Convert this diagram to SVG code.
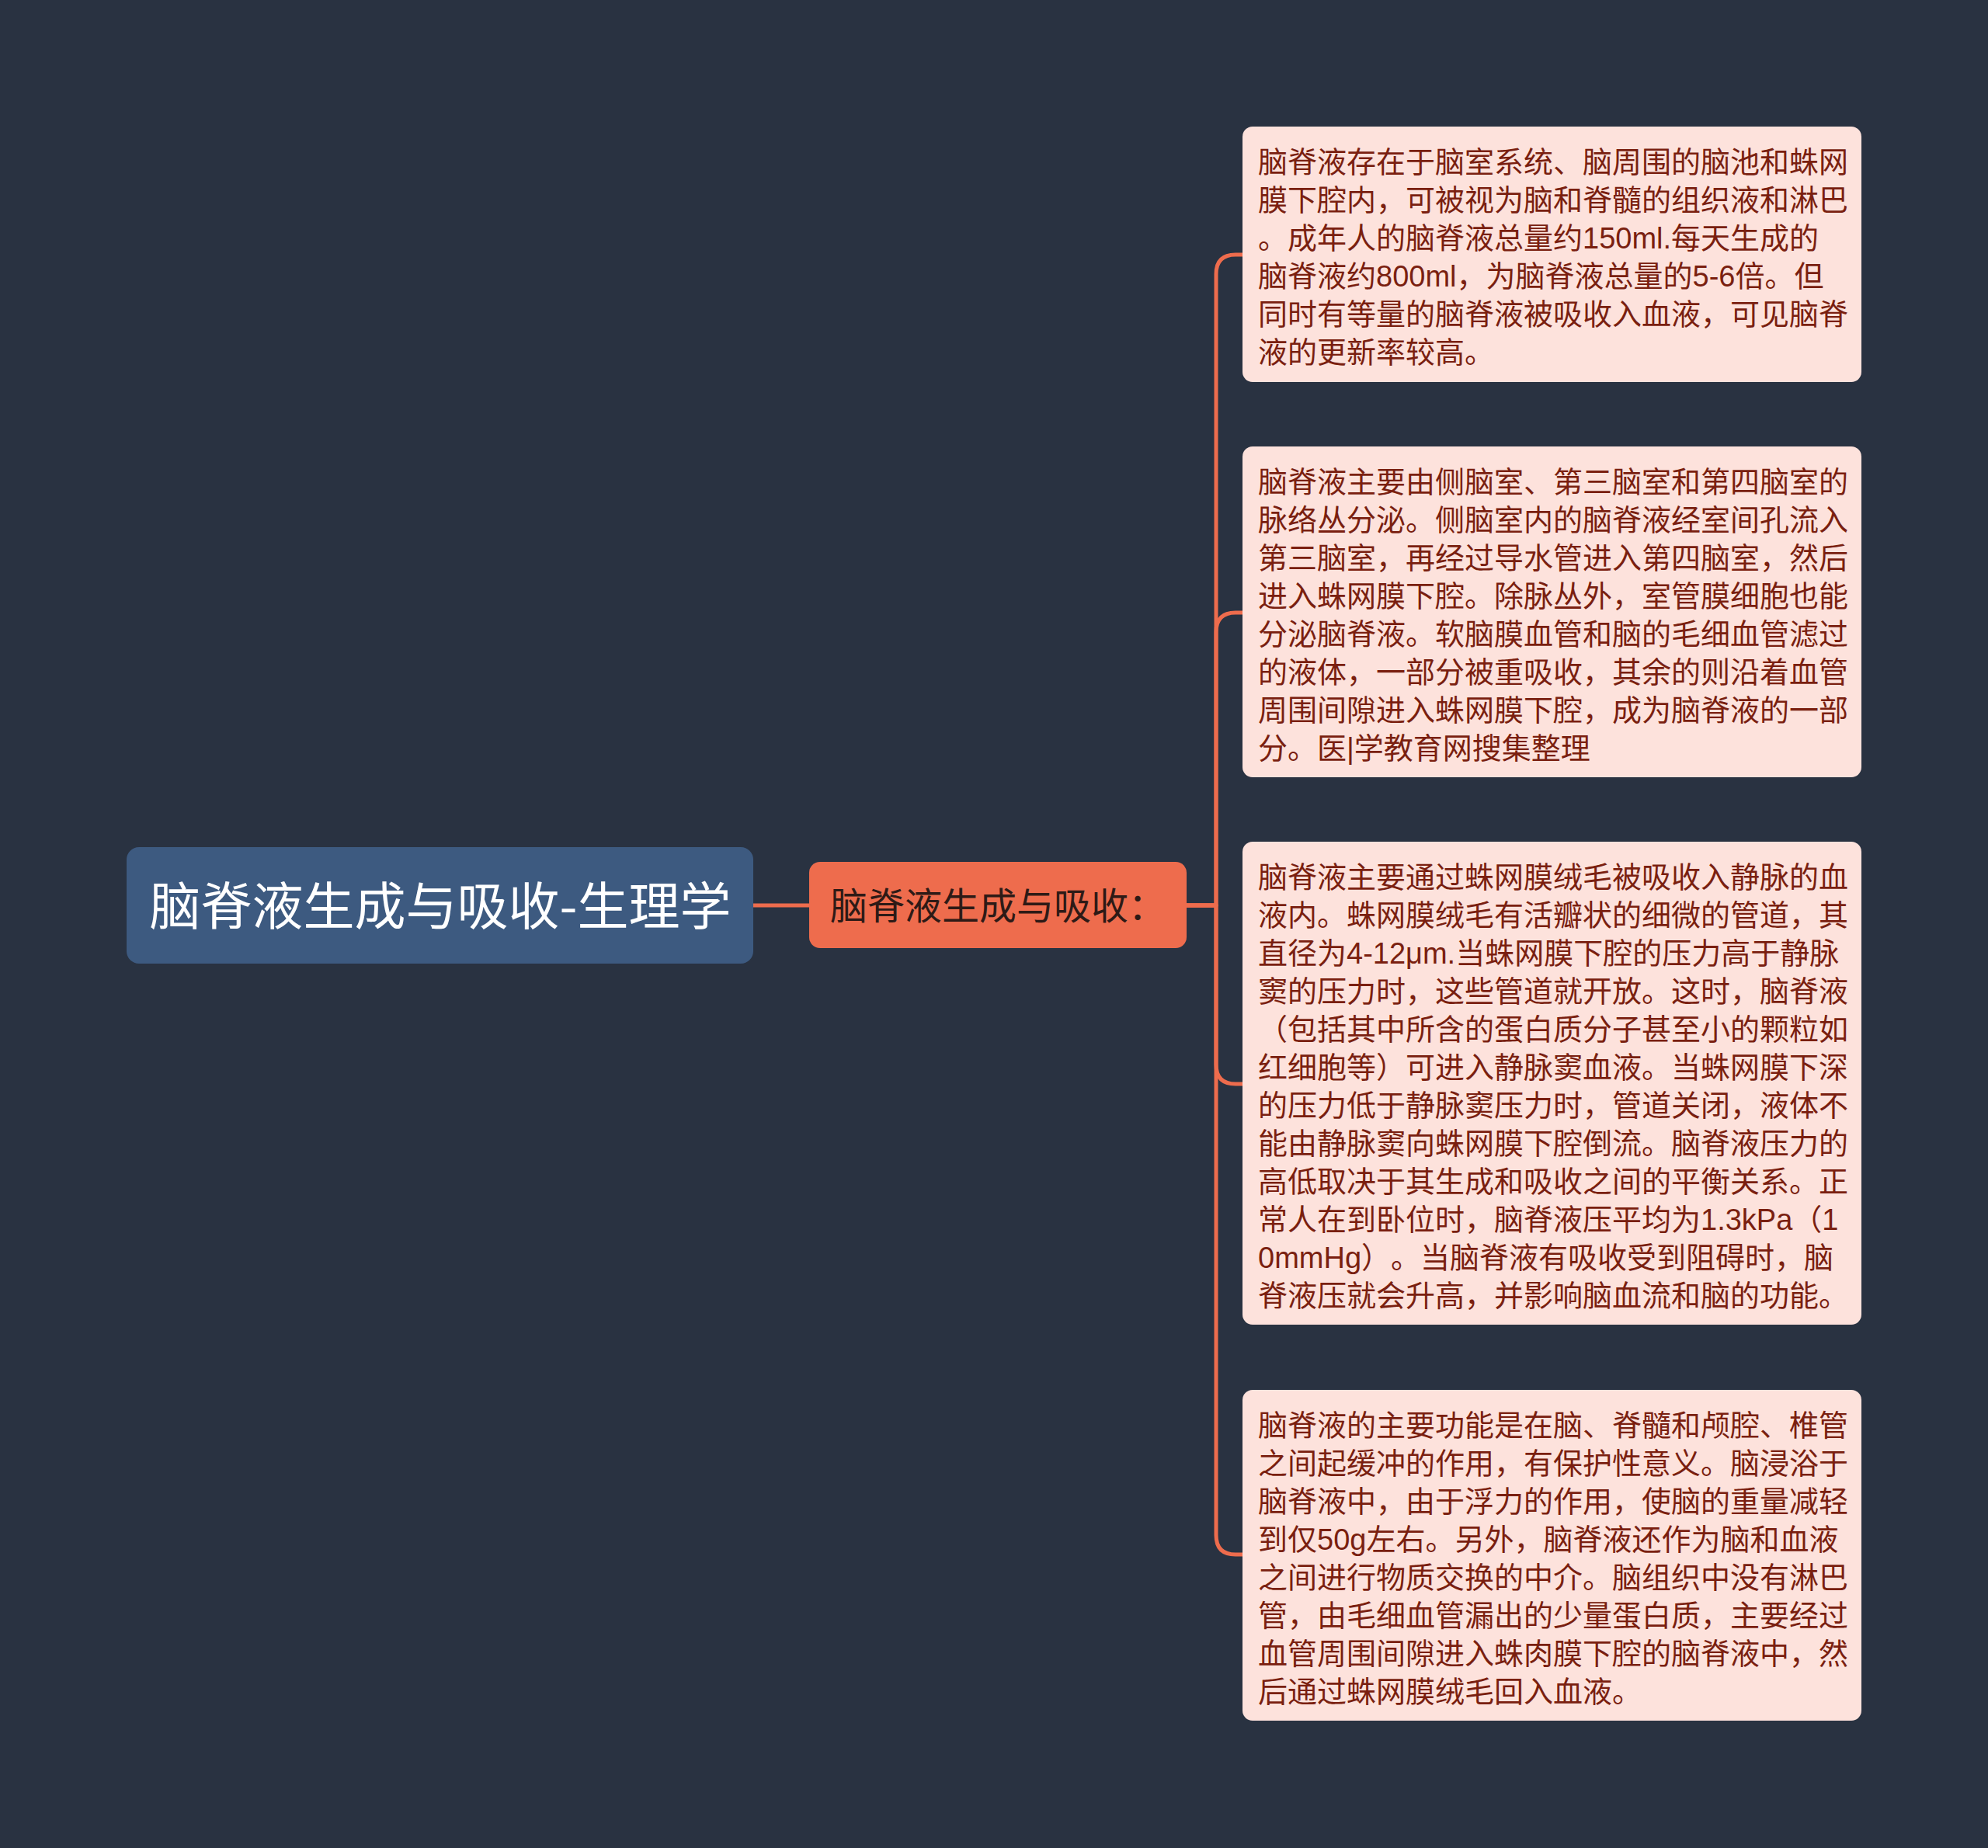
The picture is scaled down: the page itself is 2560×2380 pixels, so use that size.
<svg xmlns="http://www.w3.org/2000/svg" width="2560" height="2380" viewBox="0 0 2560 2380">
  <style>
    .bg { fill: #293241; }
    .root-box { fill: #3d5a80; }
    .sub-box { fill: #ee6c4d; }
    .leaf-box { fill: #fde2dc; }
    text { text-spacing-trim: space-all; }
    .root-text { font-family: "Noto Sans CJK SC", "Noto Sans", sans-serif; font-size: 66px; fill: #ffffff; text-anchor: middle; }
    .sub-text { font-family: "Noto Sans CJK SC", "Noto Sans", sans-serif; font-size: 48px; fill: #2e1a16; text-anchor: middle; }
    .leaf-text { font-family: "Liberation Sans", "Noto Sans CJK SC", sans-serif; font-size: 38px; fill: #7a1f10; }
    .conn { fill: none; stroke: #ee6c4d; stroke-width: 5; stroke-linecap: round; stroke-linejoin: round; }
  </style>
  <rect class="bg" x="0" y="0" width="2560" height="2380"/>

  <g id="connectors">
    <path class="conn" d="M970,1166 H1042"/>
    <path class="conn" d="M1528,1166 H1566 V353 Q1566,328 1591,328 H1600"/>
    <path class="conn" d="M1528,1166 H1566 V814 Q1566,789 1591,789 H1600"/>
    <path class="conn" d="M1528,1166 H1566 V1371 Q1566,1396 1591,1396 H1600"/>
    <path class="conn" d="M1528,1166 H1566 V1977 Q1566,2002 1591,2002 H1600"/>
  </g>

  <g id="root">
    <rect class="root-box" x="163" y="1091" width="807" height="150" rx="16"/>
    <text class="root-text" x="567" y="1191">脑脊液生成与吸收-生理学</text>
  </g>

  <g id="sub">
    <rect class="sub-box" x="1042" y="1110" width="486" height="111" rx="14"/>
    <text class="sub-text" x="1285" y="1184">脑脊液生成与吸收：</text>
  </g>

  <g id="leaf1">
    <rect class="leaf-box" x="1600" y="163" width="797" height="329" rx="13"/>
    <text class="leaf-text" x="1620" y="222">
      <tspan x="1620" y="222">脑脊液存在于脑室系统、脑周围的脑池和蛛网</tspan>
      <tspan x="1620" y="271">膜下腔内，可被视为脑和脊髓的组织液和淋巴</tspan>
      <tspan x="1620" y="320">。成年人的脑脊液总量约150ml.每天生成的</tspan>
      <tspan x="1620" y="369">脑脊液约800ml，为脑脊液总量的5-6倍。但</tspan>
      <tspan x="1620" y="418">同时有等量的脑脊液被吸收入血液，可见脑脊</tspan>
      <tspan x="1620" y="467">液的更新率较高。</tspan>
    </text>
  </g>

  <g id="leaf2">
    <rect class="leaf-box" x="1600" y="575" width="797" height="426" rx="13"/>
    <text class="leaf-text" x="1620" y="634">
      <tspan x="1620" y="634">脑脊液主要由侧脑室、第三脑室和第四脑室的</tspan>
      <tspan x="1620" y="683">脉络丛分泌。侧脑室内的脑脊液经室间孔流入</tspan>
      <tspan x="1620" y="732">第三脑室，再经过导水管进入第四脑室，然后</tspan>
      <tspan x="1620" y="781">进入蛛网膜下腔。除脉丛外，室管膜细胞也能</tspan>
      <tspan x="1620" y="830">分泌脑脊液。软脑膜血管和脑的毛细血管滤过</tspan>
      <tspan x="1620" y="879">的液体，一部分被重吸收，其余的则沿着血管</tspan>
      <tspan x="1620" y="928">周围间隙进入蛛网膜下腔，成为脑脊液的一部</tspan>
      <tspan x="1620" y="977">分。医|学教育网搜集整理</tspan>
    </text>
  </g>

  <g id="leaf3">
    <rect class="leaf-box" x="1600" y="1084" width="797" height="622" rx="13"/>
    <text class="leaf-text" x="1620" y="1143">
      <tspan x="1620" y="1143">脑脊液主要通过蛛网膜绒毛被吸收入静脉的血</tspan>
      <tspan x="1620" y="1192">液内。蛛网膜绒毛有活瓣状的细微的管道，其</tspan>
      <tspan x="1620" y="1241">直径为4-12μm.当蛛网膜下腔的压力高于静脉</tspan>
      <tspan x="1620" y="1290">窦的压力时，这些管道就开放。这时，脑脊液</tspan>
      <tspan x="1620" y="1339">（包括其中所含的蛋白质分子甚至小的颗粒如</tspan>
      <tspan x="1620" y="1388">红细胞等）可进入静脉窦血液。当蛛网膜下深</tspan>
      <tspan x="1620" y="1437">的压力低于静脉窦压力时，管道关闭，液体不</tspan>
      <tspan x="1620" y="1486">能由静脉窦向蛛网膜下腔倒流。脑脊液压力的</tspan>
      <tspan x="1620" y="1535">高低取决于其生成和吸收之间的平衡关系。正</tspan>
      <tspan x="1620" y="1584">常人在到卧位时，脑脊液压平均为1.3kPa（1</tspan>
      <tspan x="1620" y="1633">0mmHg）。当脑脊液有吸收受到阻碍时，脑</tspan>
      <tspan x="1620" y="1682">脊液压就会升高，并影响脑血流和脑的功能。</tspan>
    </text>
  </g>

  <g id="leaf4">
    <rect class="leaf-box" x="1600" y="1790" width="797" height="426" rx="13"/>
    <text class="leaf-text" x="1620" y="1849">
      <tspan x="1620" y="1849">脑脊液的主要功能是在脑、脊髓和颅腔、椎管</tspan>
      <tspan x="1620" y="1898">之间起缓冲的作用，有保护性意义。脑浸浴于</tspan>
      <tspan x="1620" y="1947">脑脊液中，由于浮力的作用，使脑的重量减轻</tspan>
      <tspan x="1620" y="1996">到仅50g左右。另外，脑脊液还作为脑和血液</tspan>
      <tspan x="1620" y="2045">之间进行物质交换的中介。脑组织中没有淋巴</tspan>
      <tspan x="1620" y="2094">管，由毛细血管漏出的少量蛋白质，主要经过</tspan>
      <tspan x="1620" y="2143">血管周围间隙进入蛛肉膜下腔的脑脊液中，然</tspan>
      <tspan x="1620" y="2192">后通过蛛网膜绒毛回入血液。</tspan>
    </text>
  </g>
</svg>
